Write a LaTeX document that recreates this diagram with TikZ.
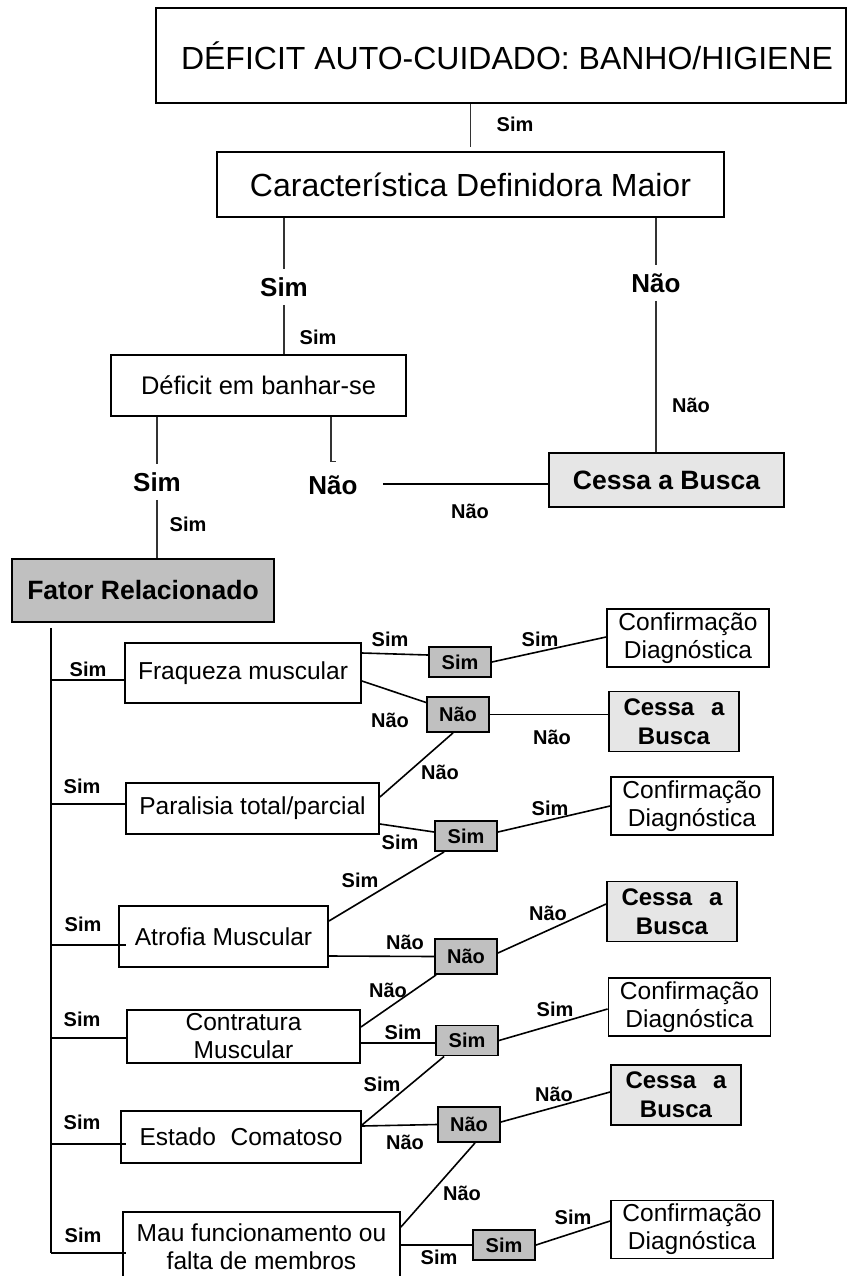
\documentclass[tikz,border=0pt]{standalone}
\usepackage{fontspec}
\setmainfont{Liberation Sans}
\usetikzlibrary{calc}

% font sizes
\newcommand\ftitle{\fontsize{24}{28}\selectfont}
\newcommand\fdef{\fontsize{19.1}{23}\selectfont}
\newcommand\frow{\fontsize{18.4}{21}\selectfont}
\newcommand\flab{\bfseries\fontsize{15}{18}\selectfont}
\newcommand\fbig{\bfseries\fontsize{19.5}{23}\selectfont}
\newcommand\fstop{\bfseries\fontsize{19.9}{23}\selectfont}
\newcommand\fstopsmall{\bfseries\fontsize{18}{21.5}\selectfont}

\definecolor{darkfill}{RGB}{192,192,192}
\definecolor{lightfill}{RGB}{230,230,230}

\begin{document}
\begin{tikzpicture}[x=0.75pt,y=-0.75pt,
  box/.style={draw, line width=1.4pt, inner sep=0pt, align=center},
  factor/.style={box, font=\frow},
  answer/.style={box, fill=darkfill, font=\flab, minimum width=46.5pt},
  confirm/.style={box, font=\frow, minimum width=121.5pt, minimum height=43.5pt},
  stopbox/.style={box, fill=lightfill, font=\fstopsmall, minimum width=97.5pt, minimum height=45pt},
  lbl/.style={font=\flab, inner sep=0pt},
  big/.style={font=\fbig, inner xsep=0pt, inner ysep=6pt},
  thinline/.style={line width=0.8pt, black!80},
  link/.style={line width=1.2pt}]

\path[use as bounding box] (0,0) rectangle (847,1276);

% ---------- upper part ----------
\node[box, minimum width=517.5pt, minimum height=71.25pt, font=\ftitle]
  (title) at (501,55.5) {\hspace*{9pt}DÉFICIT AUTO-CUIDADO: BANHO/HIGIENE};
\node[box, minimum width=380.25pt, minimum height=48.75pt, font=\ftitle]
  (cdm) at (470.5,184.5) {Característica Definidora Maior};
\node[box, minimum width=221.25pt, minimum height=45.75pt, font=\fdef]
  (def) at (258.5,385.5) {Déficit em banhar-se};
\node[box, fill=lightfill, minimum width=176.25pt, minimum height=40.5pt, font=\fstop]
  (cessa0) at (666.5,480) {Cessa a Busca};
\node[box, fill=darkfill, minimum width=196.5pt, minimum height=47.25pt, font=\fstop]
  (fator) at (143,590.5) {Fator Relacionado};

\node[big] (simA) at (284,287) {Sim};
\node[big] (naoA) at (656,283) {Não};
\node[big] (simB) at (157,482) {Sim};
\node[big] (naoB) at (333,485) {Não};

\draw[thinline] (title.south -| cdm.north) -- ($(cdm.north)+(0,-4)$);
\draw[thinline] (cdm.south -| simA) -- (simA);
\draw[thinline] (simA) -- (simA |- def.north);
\draw[thinline] (cdm.south -| naoA) -- (naoA);
\draw[thinline] (naoA) -- (naoA |- cessa0.north);
\draw[thinline] (def.south -| simB) -- (simB);
\draw[thinline] (simB) -- (simB |- fator.north);
\coordinate (hk) at ($(naoB.north)+(-2,-6)$);
\draw[thinline] (hk |- def.south) -- (hk) -- ++(5,0);
\coordinate (nb) at ($(naoB.east)+(25,-1)$);
\draw[link] (nb) -- (nb -| cessa0.west);

\node[lbl] at (515,124) {Sim};
\node[lbl] at (318,337) {Sim};
\node[lbl] at (691,405) {Não};
\node[lbl] at (470,511) {Não};
\node[lbl] at (188,524) {Sim};

% ---------- related factors ----------
\node[factor, minimum width=177pt, minimum height=45pt] (fraq) at (243,673) {Fraqueza muscular};
\node[factor, minimum width=189.75pt, minimum height=38.25pt] (para) at (252.5,808.5) {Paralisia total/parcial};
\node[factor, minimum width=156.75pt, minimum height=45.75pt] (atro) at (223.5,936.5) {Atrofia Muscular};
\node[factor, minimum width=174.75pt, minimum height=39.75pt] (contr) at (243.5,1036.5) {Contratura\\Muscular};
\node[factor, minimum width=180pt, minimum height=39pt] (estado) at (241,1137) {Estado\hspace{0.6em}Comatoso};
\node[factor, minimum width=207.75pt, minimum height=52.5pt] (mau) at (261.5,1247) {Mau funcionamento ou\\falta de membros};

\coordinate (b1) at (51,680);
\coordinate (b2) at (51,804);
\coordinate (b3) at (51,945);
\coordinate (b4) at (51,1038);
\coordinate (b5) at (51,1144);
\coordinate (b6) at (51,1253);
\draw[link] ($(fator.south -| b1)+(0,5)$) -- (b6);
\draw[link] (b1) -- (b1 -| fraq.west);
\draw[link] (b2) -- (b2 -| para.west);
\draw[link] (b3) -- ($(b3 -| atro.west)+(8,0)$);
\draw[link] (b4) -- (b4 -| contr.west);
\draw[link] (b5) -- ($(b5 -| estado.west)+(6,0)$);
\draw[link] (b6) -- ($(b6 -| mau.west)+(4,0)$);

\node[lbl] at (88,669) {Sim};
\node[lbl] at (82,786) {Sim};
\node[lbl] at (83,924) {Sim};
\node[lbl] at (82,1019) {Sim};
\node[lbl] at (82,1122) {Sim};
\node[lbl] at (83,1235) {Sim};

% answer boxes
\node[answer, minimum height=22.5pt] (s1) at (460,662) {Sim};
\node[answer, minimum height=26.25pt] (n1) at (458,714.5) {Não};
\node[answer, minimum height=22.5pt] (s2) at (466,836) {Sim};
\node[answer, minimum height=26.25pt] (n2) at (466,956.5) {Não};
\node[answer, minimum height=22.5pt] (s3) at (467,1040.5) {Sim};
\node[answer, minimum height=26.25pt] (n3) at (469,1124.5) {Não};
\node[answer, minimum height=22.5pt] (s4) at (504,1245) {Sim};

% outcomes
\node[confirm] (conf1) at (688,638) {Confirmação\\Diagnóstica};
\node[confirm] (conf2) at (692,806) {Confirmação\\Diagnóstica};
\node[confirm] (conf3) at (689.5,1007) {Confirmação\\Diagnóstica};
\node[confirm] (conf4) at (692,1229.5) {Confirmação\\Diagnóstica};
\node[stopbox] (cessa1) at (674,721.5) {Cessa\hspace{0.7em}a\\Busca};
\node[stopbox] (cessa2) at (672,911.5) {Cessa\hspace{0.7em}a\\Busca};
\node[stopbox] (cessa3) at (676,1095) {Cessa\hspace{0.7em}a\\Busca};

% factor -> answer
\draw[link] ($(fraq.east)+(0,-20)$) -- ($(s1.west)+(0,-7)$);
\draw[link] ($(fraq.east)+(0,8)$) -- ($(n1.west)+(0,-12)$);
\draw[link] ($(para.east)+(0,-11.5)$) -- ($(n1.south)+(-5,0)$);
\draw[link] ($(para.east)+(0,15.5)$) -- ($(s2.west)+(0,-4)$);
\draw[link] ($(atro.east)+(0,-15.5)$) -- ($(s2.south west)+(10,0)$);
\draw[link] ($(atro.east)+(0,19.5)$) -- (n2.west);
\draw[link] ($(contr.east)+(0,-9.5)$) -- ($(n2.south west)+(2,0)$);
\coordinate (c2) at ($(contr.east)+(0,6.5)$);
\draw[link] (c2) -- (c2 -| s3.west);
\draw[link] ($(estado.east)+(0,-12)$) -- ($(s3.south west)+(9,0)$);
\draw[link] ($(estado.east)+(0,-11)$) -- (n3.west);
\draw[link] ($(mau.east)+(0,-20)$) -- ($(n3.south)+(6,0)$);
\draw[link] ($(mau.east)+(0,-2)$) -- (s4.west);

% answer -> outcome
\draw[link] (s1.east) -- ($(conf1.west)+(0,-1)$);
\draw[link] (n1.east) -- (n1.east -| cessa1.west);
\draw[link] ($(s2.east)+(0,-4)$) -- (conf2.west);
\draw[link] ($(n2.east)+(0,-3.5)$) -- ($(cessa2.west)+(0,-7.5)$);
\draw[link] (s3.east) -- ($(conf3.west)+(0,2)$);
\draw[link] ($(n3.east)+(0,-2.5)$) -- ($(cessa3.west)+(0,-3)$);
\draw[link] (s4.east) -- ($(conf4.west)+(0,-8.5)$);

% branch labels
\node[lbl] at (390,639) {Sim};
\node[lbl] at (390,720) {Não};
\node[lbl] at (540,639) {Sim};
\node[lbl] at (552,737) {Não};
\node[lbl] at (440,772) {Não};
\node[lbl] at (550,808) {Sim};
\node[lbl] at (400,842) {Sim};
\node[lbl] at (360,880) {Sim};
\node[lbl] at (548,913) {Não};
\node[lbl] at (405,942) {Não};
\node[lbl] at (388,990) {Não};
\node[lbl] at (555,1009) {Sim};
\node[lbl] at (403,1032) {Sim};
\node[lbl] at (382,1084) {Sim};
\node[lbl] at (554,1094) {Não};
\node[lbl] at (405,1142) {Não};
\node[lbl] at (462,1193) {Não};
\node[lbl] at (573,1217) {Sim};
\node[lbl] at (439,1257) {Sim};

\end{tikzpicture}
\end{document}
